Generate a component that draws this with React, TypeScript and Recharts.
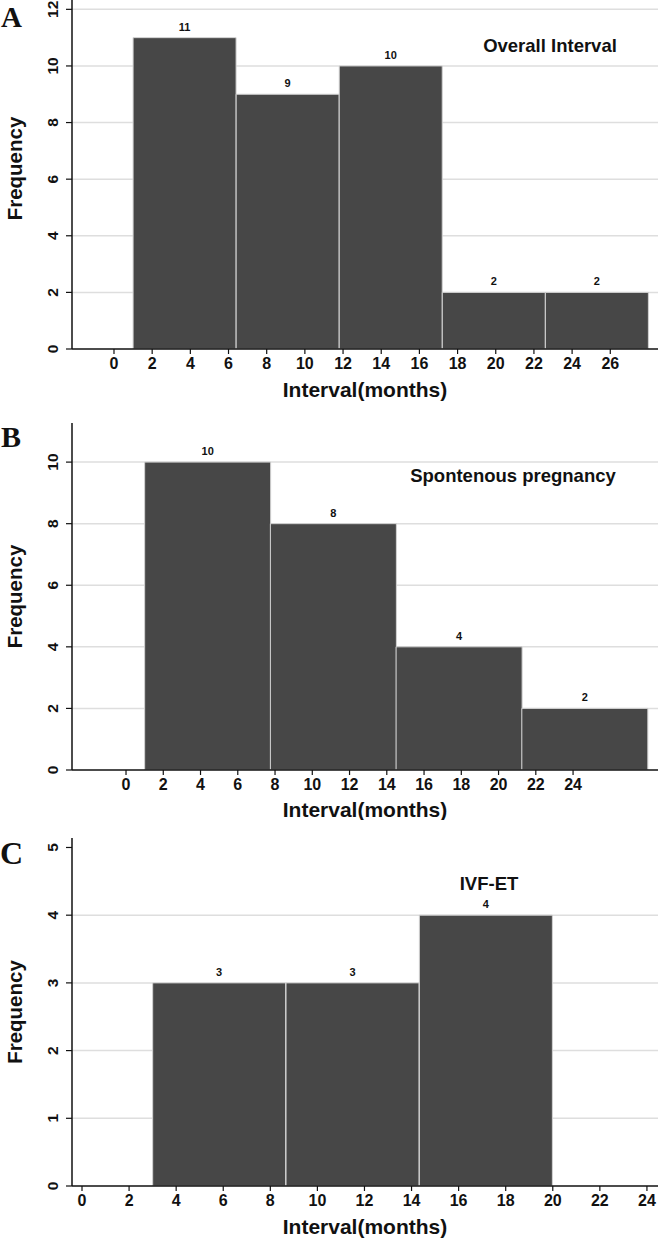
import { BarChart, Bar, XAxis, YAxis, CartesianGrid, LabelList } from 'recharts'

// histogram bin edges (months) and counts
const overallEdges = [1, 6.4, 11.8, 17.2, 22.6, 28]
const overallCounts = [11, 9, 10, 2, 2]
const spontEdges = [1, 7.75, 14.5, 21.25, 28]
const spontCounts = [10, 8, 4, 2]
const ivfEdges = [3, 8.67, 14.33, 20]
const ivfCounts = [3, 3, 4]

const overallXTicks = [0, 2, 4, 6, 8, 10, 12, 14, 16, 18, 20, 22, 24, 26]
const spontXTicks = [0, 2, 4, 6, 8, 10, 12, 14, 16, 18, 20, 22, 24]
const ivfXTicks = [0, 2, 4, 6, 8, 10, 12, 14, 16, 18, 20, 22, 24]
const overallYTicks = [0, 2, 4, 6, 8, 10, 12]
const spontYTicks = [0, 2, 4, 6, 8, 10]
const ivfYTicks = [0, 1, 2, 3, 4, 5]

const FONT = '"Liberation Sans", Arial, Helvetica, sans-serif'
const INK = '#111'

function makeBins(edges: number[], counts: number[]) {
  return counts.map((count, i) => ({
    lo: edges[i],
    hi: edges[i + 1],
    mid: (edges[i] + edges[i + 1]) / 2,
    count,
  }))
}

const RotatedTick = (props: any) => {
  const { x, y, payload } = props
  return (
    <g transform={`translate(${x - 6},${y})`}>
      <text transform="rotate(-90)" textAnchor="middle" fontSize={15.5} fontWeight="bold" fill={INK}>
        {payload.value}
      </text>
    </g>
  )
}

interface PanelProps {
  top: number
  height: number
  marginTop: number
  axisHeight: number
  labelOffset: number
  freqShift: number
  edges: number[]
  counts: number[]
  xDomain: [number, number]
  xTicks: number[]
  yDomain: [number, number]
  yTicks: number[]
  gridValues: number[]
}

function Panel(p: PanelProps) {
  const rows = makeBins(p.edges, p.counts)
  return (
    <div style={{ position: 'absolute', left: 0, top: p.top }}>
      <BarChart
        width={659}
        height={p.height}
        data={rows}
        margin={{ top: p.marginTop, right: 1, bottom: 0, left: 0 }}
        barCategoryGap={0}
        barGap={0}
      >
        <CartesianGrid
          horizontal
          vertical={false}
          horizontalValues={p.gridValues}
          stroke="#dedede"
          strokeWidth={1.5}
        />
        <XAxis
          dataKey="mid"
          type="number"
          domain={p.xDomain}
          ticks={p.xTicks}
          allowDataOverflow
          interval={0}
          height={p.axisHeight}
          axisLine={{ stroke: INK, strokeWidth: 1.5 }}
          tickLine={{ stroke: INK, strokeWidth: 1.2 }}
          tickSize={5}
          tickMargin={4}
          tick={{ fontSize: 16, fontWeight: 'bold', fill: INK }}
          label={{
            value: 'Interval(months)',
            position: 'insideBottom',
            offset: p.labelOffset,
            fontSize: 21,
            fontWeight: 'bold',
            fill: INK,
          }}
        />
        <YAxis
          type="number"
          domain={p.yDomain}
          ticks={p.yTicks}
          allowDataOverflow
          interval={0}
          width={72}
          axisLine={{ stroke: INK, strokeWidth: 1.5 }}
          tickLine={{ stroke: INK, strokeWidth: 1.2 }}
          tickSize={6}
          tickMargin={2}
          tick={<RotatedTick />}
          label={{
            value: 'Frequency',
            content: (lp: any) => {
              const vb = lp.viewBox
              const cy = vb.y + vb.height / 2 + p.freqShift
              return (
                <text
                  transform={`translate(22,${cy}) rotate(-90)`}
                  textAnchor="middle"
                  fontSize={20.5}
                  fontWeight="bold"
                  fill={INK}
                >
                  Frequency
                </text>
              )
            },
          }}
        />
        <Bar dataKey="count" fill="#474747" stroke="#d2d2d2" strokeWidth={1} isAnimationActive={false}>
          <LabelList dataKey="count" position="top" offset={7} fontSize={11} fontWeight="bold" fill={INK} />
        </Bar>
      </BarChart>
    </div>
  )
}

export default function App() {
  return (
    <div
      style={{
        position: 'absolute',
        left: 0,
        top: 0,
        width: 659,
        height: 1240,
        background: '#fff',
        fontFamily: FONT,
        overflow: 'hidden',
      }}
    >
      <Panel
        top={0}
        height={405}
        marginTop={0}
        axisHeight={56}
        labelOffset={8}
        freqShift={-6}
        edges={overallEdges}
        counts={overallCounts}
        xDomain={[-2.2, 28.5]}
        xTicks={overallXTicks}
        yDomain={[0, 12.33]}
        yTicks={overallYTicks}
        gridValues={[2, 4, 6, 8, 10, 12]}
      />
      <Panel
        top={405}
        height={415}
        marginTop={18}
        axisHeight={50}
        labelOffset={3}
        freqShift={0}
        edges={spontEdges}
        counts={spontCounts}
        xDomain={[-2.9, 28.56]}
        xTicks={spontXTicks}
        yDomain={[0, 11.27]}
        yTicks={spontYTicks}
        gridValues={[2, 4, 6, 8, 10]}
      />
      <Panel
        top={820}
        height={420}
        marginTop={18}
        axisHeight={54}
        labelOffset={6}
        freqShift={0}
        edges={ivfEdges}
        counts={ivfCounts}
        xDomain={[-0.425, 24.47]}
        xTicks={ivfXTicks}
        yDomain={[0, 5.14]}
        yTicks={ivfYTicks}
        gridValues={[1, 2, 3, 4]}
      />
      <svg
        width={659}
        height={1240}
        style={{ position: 'absolute', left: 0, top: 0, pointerEvents: 'none' }}
      >
        <g fontFamily='"Liberation Serif", "Times New Roman", serif' fontWeight="bold" fill={INK}>
          <text x={1} y={27} fontSize={29}>A</text>
          <text x={1} y={447} fontSize={30}>B</text>
          <text x={0} y={864} fontSize={32}>C</text>
        </g>
        <g fontSize={18.5} fontWeight="bold" fill={INK} textAnchor="middle">
          <text x={550} y={52}>Overall Interval</text>
          <text x={513} y={482}>Spontenous pregnancy</text>
          <text x={489} y={890}>IVF-ET</text>
        </g>
      </svg>
    </div>
  )
}
